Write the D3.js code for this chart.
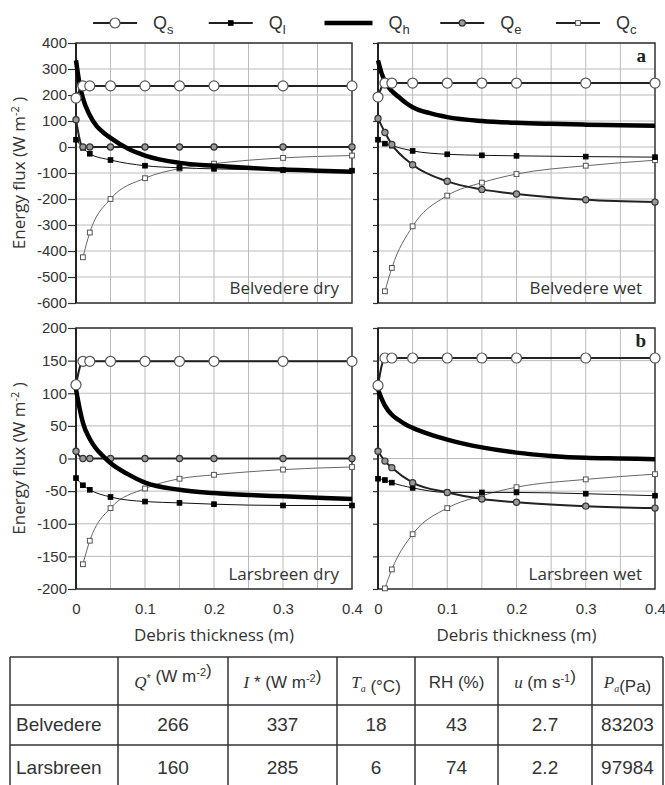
<!DOCTYPE html>
<html>
<head>
<meta charset="utf-8">
<title>Energy flux vs debris thickness</title>
<script src="https://d3js.org/d3.v7.min.js"></script>
<style>
  body { margin: 0; background: #fff; }
  svg { display: block; }
  .tick text { font-family: 'Liberation Sans', Arial, sans-serif; font-size: 15px; fill: #333; }
  .tick line { stroke: #333; stroke-width: 1.2px; }
</style>
</head>
<body>
<div id="chart"></div>
<script>
// ---- data ----
let thickness = [0, 0.01, 0.02, 0.05, 0.1, 0.15, 0.2, 0.3, 0.4];
let qcThickness = [0.01, 0.02, 0.05, 0.1, 0.15, 0.2, 0.3, 0.4];
let qhThickness = [0, 0.005, 0.01, 0.02, 0.03, 0.04, 0.05, 0.075, 0.1, 0.15, 0.2, 0.25, 0.3, 0.35, 0.4];

// Belvedere dry
let belDryQs = [188, 235, 235, 235, 235, 235, 235, 235, 235];
let belDryQl = [28, -3, -26, -50, -72, -80, -84, -89, -91];
let belDryQe = [105, 0, 0, 0, 0, 0, 0, 0, 0];
let belDryQc = [-424, -329, -200, -120, -83, -64, -42, -33];
let belDryQh = [333, 245, 188, 122, 80, 55, 35, -6, -33, -61, -72, -80, -87, -91, -95];

// Belvedere wet
let belWetQs = [192, 246, 246, 246, 246, 246, 246, 246, 246];
let belWetQl = [28, 13, 5, -15, -28, -32, -34, -37, -39];
let belWetQe = [110, 56, 10, -68, -132, -163, -181, -203, -212];
let belWetQc = [-555, -465, -305, -187, -137, -104, -72, -51];
let belWetQh = [333, 285, 252, 215, 192, 170, 153, 130, 115, 100, 93, 89, 86, 84, 82];

// Larsbreen dry
let larDryQs = [113, 149, 149, 149, 149, 149, 149, 149, 149];
let larDryQl = [-30, -41, -48, -59, -66, -68, -70, -72, -72];
let larDryQe = [11, 0, 0, 0, 0, 0, 0, 0, 0];
let larDryQc = [-162, -126, -76, -46, -31, -25, -17, -13];
let larDryQh = [106, 78, 55, 30, 14, 3, -7, -24, -37, -48, -53, -56, -58, -60, -62];

// Larsbreen wet
let larWetQs = [112, 154, 154, 154, 154, 154, 154, 154, 154];
let larWetQl = [-31, -33, -37, -45, -52, -52, -52, -54, -57];
let larWetQe = [11, -4, -14, -37, -52, -62, -67, -73, -76];
let larWetQc = [-199, -170, -116, -76, -57, -44, -32, -24];
let larWetQh = [106, 92, 81, 67, 59, 52, 47, 37, 29, 17, 9, 4, 1, 0, -1];

// axis ticks
let xTicks = [0, 0.1, 0.2, 0.3, 0.4];
let xGrid = [0.05, 0.1, 0.15, 0.2, 0.25, 0.3, 0.35];
let yTicksTop = [400, 300, 200, 100, 0, -100, -200, -300, -400, -500, -600];
let yTicksBottom = [200, 150, 100, 50, 0, -50, -100, -150, -200];

// legend
let seriesKeys = ["qs", "ql", "qh", "qe", "qc"];
let seriesSubs = ["s", "l", "h", "e", "c"];

// table
let siteNames = ["Belvedere", "Larsbreen"];
let netRadiation = [266, 160];
let incomingShort = [337, 285];
let airTemp = [18, 6];
let relHumidity = [43, 74];
let windSpeed = [2.7, 2.2];
let airPressure = [83203, 97984];
let tableHeaders = [
  [{t: "Q", i: 1}, {t: "*", sup: 1}, {t: " (W m"}, {t: "-2", sup: 1}, {t: ")"}],
  [{t: "I", i: 1}, {t: " * "}, {t: "(W m"}, {t: "-2", sup: 1}, {t: ")"}],
  [{t: "T", i: 1}, {t: "a", sub: 1}, {t: " (°C)"}],
  [{t: "RH (%)"}],
  [{t: "u", i: 1}, {t: " (m s"}, {t: "-1", sup: 1}, {t: ")"}],
  [{t: "P", i: 1}, {t: "a", sub: 1}, {t: "(Pa)"}]
];

// ---- layout ----
const W = 665, H = 785;
const SANS = "'Open Sans', 'Noto Sans', sans-serif";
const ARIAL = "'Liberation Sans', Arial, sans-serif";
const SERIF = "'Liberation Serif', 'DejaVu Serif', serif";

let svg = d3.select("#chart").append("svg")
  .attr("width", W).attr("height", H)
  .style("background", "#fff");

let xLeft = d3.scaleLinear().domain([0, 0.4]).range([76, 352]);
let xRight = d3.scaleLinear().domain([0, 0.4]).range([378, 655]);
let yTop = d3.scaleLinear().domain([-600, 400]).range([303, 43]);
let yBottom = d3.scaleLinear().domain([-200, 200]).range([589, 328]);

let panels = [
  {x: xLeft, y: yTop, ticks: yTicksTop, labels: true, xlab: false, name: "Belvedere dry",
   qs: belDryQs, ql: belDryQl, qe: belDryQe, qc: belDryQc, qh: belDryQh},
  {x: xRight, y: yTop, ticks: yTicksTop, labels: false, xlab: false, name: "Belvedere wet", letter: "a",
   qs: belWetQs, ql: belWetQl, qe: belWetQe, qc: belWetQc, qh: belWetQh},
  {x: xLeft, y: yBottom, ticks: yTicksBottom, labels: true, xlab: true, name: "Larsbreen dry",
   qs: larDryQs, ql: larDryQl, qe: larDryQe, qc: larDryQc, qh: larDryQh},
  {x: xRight, y: yBottom, ticks: yTicksBottom, labels: false, xlab: true, name: "Larsbreen wet", letter: "b",
   qs: larWetQs, ql: larWetQl, qe: larWetQe, qc: larWetQc, qh: larWetQh}
];

// series styles
let styles = {
  qs: {stroke: "#222", width: 2, marker: "circle", r: 5, fill: "#fff", mstroke: "#555"},
  ql: {stroke: "#111", width: 1, marker: "square", r: 2.3, fill: "#000", mstroke: "#000"},
  qh: {stroke: "#000", width: 4.5, marker: null},
  qe: {stroke: "#222", width: 2, marker: "circle", r: 3.1, fill: "#999", mstroke: "#333"},
  qc: {stroke: "#666", width: 1, marker: "square", r: 2.4, fill: "#fff", mstroke: "#555"}
};

function drawMarkers(g, pts, st, x, y) {
  if (st.marker === "circle") {
    g.selectAll(null).data(pts).join("circle")
      .attr("cx", d => x(d[0])).attr("cy", d => y(d[1])).attr("r", st.r)
      .attr("fill", st.fill).attr("stroke", st.mstroke).attr("stroke-width", 1.2);
  } else if (st.marker === "square") {
    g.selectAll(null).data(pts).join("rect")
      .attr("x", d => x(d[0]) - st.r).attr("y", d => y(d[1]) - st.r)
      .attr("width", st.r * 2).attr("height", st.r * 2)
      .attr("fill", st.fill).attr("stroke", st.mstroke).attr("stroke-width", 1);
  }
}

panels.forEach(p => {
  let g = svg.append("g");
  let [xa, xb] = p.x.range();
  let [yb, ya] = p.y.range();

  // grid
  g.selectAll(null).data(xGrid).join("line")
    .attr("x1", d => p.x(d)).attr("x2", d => p.x(d))
    .attr("y1", ya).attr("y2", yb)
    .attr("stroke", "#bbb").attr("stroke-width", 1);
  g.selectAll(null).data(p.ticks).join("line")
    .attr("x1", xa).attr("x2", xb)
    .attr("y1", d => p.y(d)).attr("y2", d => p.y(d))
    .attr("stroke", "#bbb").attr("stroke-width", 1);

  // frame
  g.append("rect").attr("x", xa).attr("y", ya)
    .attr("width", xb - xa).attr("height", yb - ya)
    .attr("fill", "none").attr("stroke", "#333").attr("stroke-width", 1.5);

  // y axis
  let ax = g.append("g").attr("transform", `translate(${xa},0)`)
    .call(d3.axisLeft(p.y).tickValues(p.ticks)
      .tickSize(p.labels ? 8 : 5).tickPadding(1)
      .tickFormat(p.labels ? (d => String(d)) : ""));
  ax.select(".domain").remove();
  g.append("line").attr("x1", xa).attr("x2", xa).attr("y1", ya).attr("y2", yb)
    .attr("stroke", "#222").attr("stroke-width", 2);

  // x axis labels
  if (p.xlab) {
    let bx = g.append("g").attr("transform", `translate(0,${yb})`)
      .call(d3.axisBottom(p.x).tickValues(xTicks).tickSize(0).tickPadding(14)
        .tickFormat(d => String(d)));
    bx.select(".domain").remove();
    g.append("text")
      .attr("x", (xa + xb) / 2).attr("y", 641)
      .attr("text-anchor", "middle")
      .style("font-family", SANS).style("font-size", "17px").style("fill", "#333")
      .text("Debris thickness (m)");
  }

  // series, back to front
  let order = ["qc", "ql", "qe", "qh", "qs"];
  let line = d3.line().x(d => p.x(d[0])).y(d => p.y(d[1])).curve(d3.curveMonotoneX);
  order.forEach(k => {
    let xs = k === "qc" ? qcThickness : (k === "qh" ? qhThickness : thickness);
    let pts = xs.map((t, i) => [t, p[k][i]]);
    let st = styles[k];
    g.append("path").datum(pts)
      .attr("d", line)
      .attr("fill", "none").attr("stroke", st.stroke)
      .attr("stroke-width", st.width).attr("stroke-linejoin", "round");
    drawMarkers(g, pts, st, p.x, p.y);
  });

  // panel name
  g.append("text")
    .attr("x", xb - 13).attr("y", yb - 9)
    .attr("text-anchor", "end")
    .style("font-family", SANS).style("font-size", "17px").style("fill", "#333")
    .text(p.name);

  if (p.letter) {
    g.append("text")
      .attr("x", xb - 9).attr("y", ya + 19)
      .attr("text-anchor", "end")
      .style("font-family", SERIF).style("font-weight", "bold")
      .style("font-size", "19px").style("fill", "#222")
      .text(p.letter);
  }
});

// y axis titles
[yTop, yBottom].forEach(y => {
  let cy = (y.range()[0] + y.range()[1]) / 2;
  let t = svg.append("text")
    .attr("transform", `translate(25,${cy}) rotate(-90)`)
    .attr("text-anchor", "middle")
    .style("font-family", SANS).style("font-size", "17px").style("fill", "#333");
  t.append("tspan").text("Energy flux (W m");
  t.append("tspan").attr("dy", -6).style("font-size", "11px").text("-2");
  t.append("tspan").attr("dy", 6).text(" )");
});

// legend
let legendX = d3.scalePoint().domain(seriesKeys).range([93, 556]);
let legend = svg.append("g");
seriesKeys.forEach((k, i) => {
  let x0 = legendX(k), st = styles[k], y0 = 23;
  let len = k === "qh" ? 48 : 44;
  legend.append("line").attr("x1", x0).attr("x2", x0 + len).attr("y1", y0).attr("y2", y0)
    .attr("stroke", k === "qh" ? "#000" : "#222")
    .attr("stroke-width", k === "qh" ? 4.5 : 1.8);
  if (st.marker) {
    drawMarkers(legend, [[0, 0]], st, () => x0 + len / 2, () => y0);
  }
  let t = legend.append("text")
    .attr("x", x0 + len + 16).attr("y", y0 + 6)
    .style("font-family", ARIAL).style("font-size", "18px").style("fill", "#333");
  t.append("tspan").text("Q");
  t.append("tspan").attr("dy", 5).style("font-size", "13px").text(seriesSubs[i]);
});

// table
let colEdges = [10, 118, 228, 337, 415, 498, 592, 663];
let rowEdges = [657, 705, 745, 790];
let table = svg.append("g");
table.selectAll(null).data(colEdges).join("line")
  .attr("x1", d => d).attr("x2", d => d)
  .attr("y1", rowEdges[0]).attr("y2", rowEdges[3])
  .attr("stroke", "#333").attr("stroke-width", 1.5);
table.selectAll(null).data(rowEdges.slice(0, 3)).join("line")
  .attr("x1", colEdges[0]).attr("x2", colEdges[7])
  .attr("y1", d => d).attr("y2", d => d)
  .attr("stroke", "#333").attr("stroke-width", 1.5);

tableHeaders.forEach((parts, c) => {
  let cx = (colEdges[c + 1] + colEdges[c + 2]) / 2;
  let t = table.append("text")
    .attr("x", cx).attr("y", 688).attr("text-anchor", "middle")
    .style("font-family", ARIAL).style("font-size", "17px").style("fill", "#333");
  parts.forEach(pt => {
    let s = t.append("tspan").text(pt.t);
    if (pt.i) s.style("font-family", SERIF).style("font-style", "italic");
    if (pt.sup) s.attr("dy", -6).style("font-size", "11px");
    if (pt.sub) s.attr("dy", 4).style("font-size", "10px").style("font-family", SERIF).style("font-style", "italic");
    if (pt.sup || pt.sub) {
      t.append("tspan").attr("dy", pt.sup ? 6 : -4).text("");
    }
  });
});

let tableCols = [netRadiation, incomingShort, airTemp, relHumidity, windSpeed, airPressure];
siteNames.forEach((name, r) => {
  let cy = (rowEdges[r + 1] + rowEdges[r + 2]) / 2 + 6;
  table.append("text")
    .attr("x", colEdges[0] + 6).attr("y", cy)
    .style("font-family", ARIAL).style("font-size", "19px").style("fill", "#333")
    .text(name);
  tableCols.forEach((vals, c) => {
    table.append("text")
      .attr("x", (colEdges[c + 1] + colEdges[c + 2]) / 2).attr("y", cy)
      .attr("text-anchor", "middle")
      .style("font-family", ARIAL).style("font-size", "19px").style("fill", "#333")
      .text(String(vals[r]));
  });
});
</script>
</body>
</html>
